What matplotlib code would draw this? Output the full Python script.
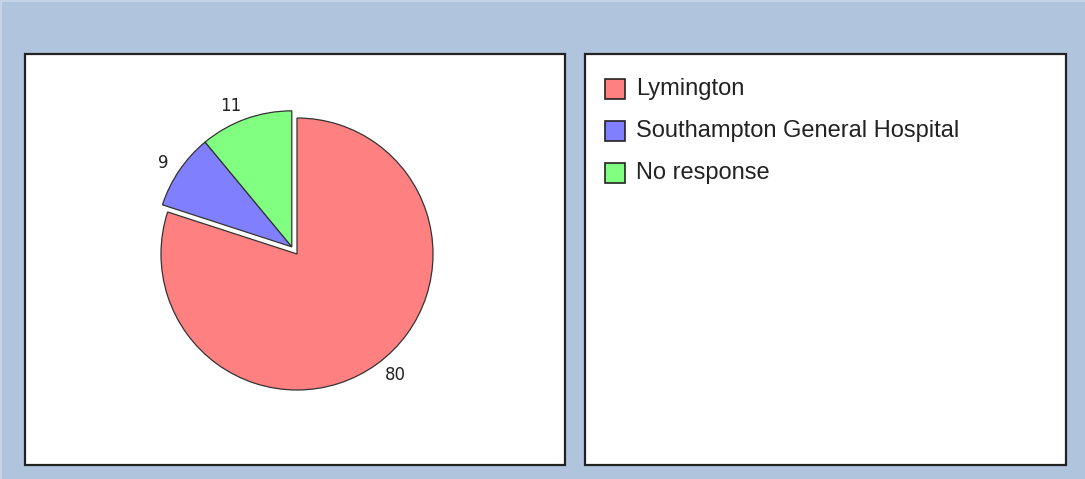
import numpy as np
import matplotlib.pyplot as plt
from matplotlib.patches import Rectangle

labels = ["Lymington", "Southampton General Hospital", "No response"]
values = [80, 9, 11]
colors = ["#ff8080", "#8080ff", "#80ff80"]
pulled = [False, True, True]   # slices pulled out together as one group

W, H = 1085, 479
fig = plt.figure(figsize=(W / 100, H / 100), dpi=100)
fig.patch.set_facecolor("#b0c4de")

def px_rect(x0, y0, x1, y1):
    # pixel coords (top-left origin) -> figure fraction
    return (x0 / W, 1 - y1 / H, (x1 - x0) / W, (y1 - y0) / H)

# light strip on top and left edge
for (x0, y0, x1, y1) in [(0, 0, W, 2), (0, 0, 2, H)]:
    l, b, w, h = px_rect(x0, y0, x1, y1)
    fig.patches.append(Rectangle((l, b), w, h, transform=fig.transFigure,
                                 facecolor="#c6d4e7", edgecolor="none", zorder=0))

# panels
for (x0, y0, x1, y1) in [(25, 54, 565, 465), (585, 54, 1066, 465)]:
    l, b, w, h = px_rect(x0, y0, x1, y1)
    fig.patches.append(Rectangle((l, b), w, h, transform=fig.transFigure,
                                 facecolor="white", edgecolor="#222222", lw=1.6,
                                 zorder=0))

# pie
cx, cy, r = 297, 254, 134
half = 170
ax = fig.add_axes(px_rect(cx - half, cy - half, cx + half, cy + half))
ax.set_zorder(2)
ax.patch.set_visible(False)
ax.set_xlim(-half / r, half / r)
ax.set_ylim(-half / r, half / r)
ax.set_aspect("equal")
ax.axis("off")
wedges, texts = ax.pie(values, labels=[str(v) for v in values], colors=colors,
                       startangle=90, counterclock=False, labeldistance=1.1,
                       wedgeprops=dict(edgecolor="#333333", linewidth=0.9),
                       textprops=dict(fontsize=12, color="#222222",
                                      family="DejaVu Sans"))

# shift the pulled group along its common middle angle
fr = np.array(values) / sum(values)
start = 90 - 360 * fr[0]
mid = np.deg2rad(start - 360 * fr[pulled].sum() / 2)
off = 0.065 * np.array([np.cos(mid), np.sin(mid)])
for wdg, txt, p in zip(wedges, texts, pulled):
    if p:
        wdg.set_center(tuple(off))
        x, y = txt.get_position()
        txt.set_position((x + off[0], y + off[1]))

# legend
for i, (lab, col) in enumerate(zip(labels, colors)):
    yc = 89 + 42 * i
    l, b, w, h = px_rect(605, yc - 10, 625, yc + 10)
    fig.patches.append(Rectangle((l, b), w, h, transform=fig.transFigure,
                                 facecolor=col, edgecolor="#222222", lw=1.2,
                                 zorder=3))
    fig.text(636 / W, 1 - yc / H, lab, fontsize=17, family="Liberation Sans",
             color="#222222", va="center", ha="left")

fig.savefig("out.png", dpi=100, facecolor=fig.get_facecolor())
